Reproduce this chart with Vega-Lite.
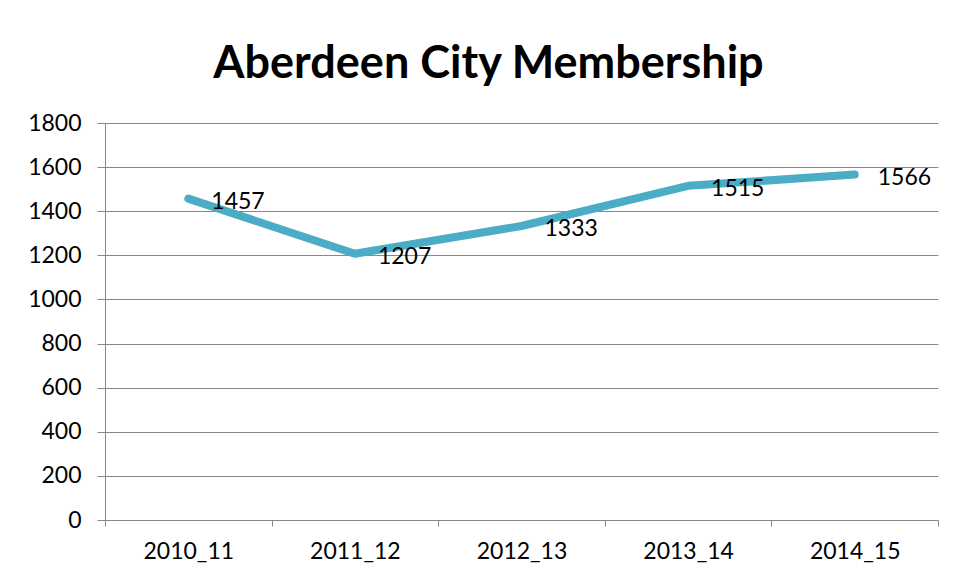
{
  "$schema": "https://vega.github.io/schema/vega-lite/v6.json",
  "width": 833,
  "height": 397,
  "autosize": {"type": "none"},
  "padding": {"left": 105, "top": 123, "right": 19, "bottom": 60},
  "background": "white",
  "title": {
    "text": "Aberdeen City Membership",
    "font": "Lato",
    "fontWeight": "bold",
    "fontSize": 45,
    "color": "black",
    "anchor": "middle",
    "offset": 25,
    "dx": -33
  },
  "data": {
    "values": [
      {"year": "2010_11", "members": 1457},
      {"year": "2011_12", "members": 1207},
      {"year": "2012_13", "members": 1333},
      {"year": "2013_14", "members": 1515},
      {"year": "2014_15", "members": 1566}
    ]
  },
  "config": {
    "view": {"stroke": null},
    "axis": {
      "labelFont": "Lato",
      "labelFontSize": 23,
      "labelColor": "black",
      "domainColor": "#868686",
      "tickColor": "#868686",
      "gridColor": "#868686",
      "title": null
    }
  },
  "encoding": {
    "x": {
      "field": "year",
      "type": "nominal",
      "sort": null,
      "scale": {"type": "band", "paddingInner": 0, "paddingOuter": 0},
      "axis": {"labelAngle": 0, "tickBand": "extent", "tickSize": 6, "labelPadding": 14, "grid": false}
    },
    "y": {
      "field": "members",
      "type": "quantitative",
      "scale": {"domain": [0, 1800], "nice": false},
      "axis": {"values": [0, 200, 400, 600, 800, 1000, 1200, 1400, 1600, 1800], "format": "d", "tickSize": 8, "labelPadding": 16, "grid": true, "gridColor": "#888888"}
    }
  },
  "layer": [
    {
      "mark": {"type": "line", "color": "#4BACC6", "strokeWidth": 8, "strokeCap": "round", "strokeJoin": "round"}
    },
    {
      "mark": {"type": "text", "align": "left", "baseline": "middle", "dx": 23, "dy": 3, "font": "Lato", "fontSize": 23, "color": "black"},
      "encoding": {"text": {"field": "members", "type": "quantitative", "format": "d"}}
    }
  ]
}
